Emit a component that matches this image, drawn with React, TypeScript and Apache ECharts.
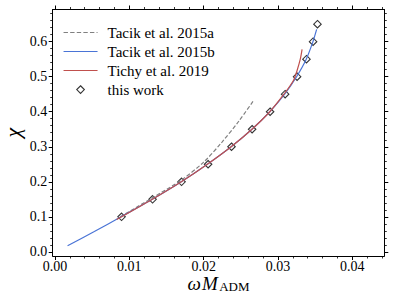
import React, { useEffect, useRef } from "react";
import * as echarts from "echarts";

const xTicks = [0, 0.01, 0.02, 0.03, 0.04];
const yTicks = [0, 0.1, 0.2, 0.3, 0.4, 0.5, 0.6];

const tacikA: [number, number][] = [
  [0.0088, 0.1], [0.0131, 0.154], [0.017, 0.205], [0.02, 0.256],
  [0.0225, 0.314], [0.0248, 0.375], [0.02675, 0.433],
];
const tacikB: [number, number][] = [
  [0.0017, 0.017], [0.0053, 0.058], [0.0089, 0.1], [0.0131, 0.15],
  [0.017, 0.2], [0.0205, 0.25], [0.0237, 0.3], [0.0265, 0.35],
  [0.0289, 0.4], [0.0309, 0.45], [0.0325, 0.5], [0.0338, 0.55],
  [0.0347, 0.6], [0.0352, 0.635],
];
const tichy: [number, number][] = [
  [0.0083, 0.092], [0.0131, 0.15], [0.017, 0.2], [0.0205, 0.25],
  [0.0237, 0.3], [0.0265, 0.35], [0.0289, 0.4], [0.0308, 0.45],
  [0.0321, 0.49], [0.0326, 0.52], [0.033, 0.55], [0.03324, 0.578],
];
const thisWork: [number, number][] = [
  [0.00896, 0.1], [0.01313, 0.15], [0.01703, 0.2], [0.0206, 0.25],
  [0.02375, 0.3], [0.02652, 0.35], [0.02894, 0.4], [0.03096, 0.45],
  [0.03257, 0.5], [0.03383, 0.55], [0.03472, 0.6], [0.03531, 0.65],
];

const FONT = "'Liberation Serif', 'DejaVu Serif', serif";
const GRAY = "#808080";
const BLUE = "#4a74d6";
const RED = "#c0504d";

function axisBase(kind: "x" | "y", showLabels: boolean, position: string) {
  const isX = kind === "x";
  const ticks = isX ? xTicks : yTicks;
  return {
    type: "value",
    position,
    min: isX ? -0.0003 : -0.012,
    max: isX ? 0.0443 : 0.692,
    minInterval: isX ? 0.01 : 0.1,
    maxInterval: isX ? 0.01 : 0.1,
    axisLine: { show: true, onZero: false, lineStyle: { color: "#000", width: 1 } },
    axisTick: { show: true, inside: false, length: 4, customValues: ticks, lineStyle: { color: "#000", width: 1 } },
    minorTick: { show: true, splitNumber: 5, length: 2.5, lineStyle: { color: "#000", width: 0.8 } },
    splitLine: { show: false },
    axisLabel: {
      show: showLabels,
      customValues: ticks,
      formatter: (v: number) => v.toFixed(isX ? 2 : 1),
      fontFamily: FONT,
      fontSize: 14,
      lineHeight: 12,
      color: "#000",
      margin: isX ? 4.5 : 5.5,
    },
    nameMoveOverlap: false,
  };
}

// legend icons: 39 wide box, visible mark in the first 34 px
const dashIcon =
  "path://M0 6.4L4.4 6.4L4.4 7.6L0 7.6Z M6.6 6.4L11 6.4L11 7.6L6.6 7.6Z M13.2 6.4L17.6 6.4L17.6 7.6L13.2 7.6Z M19.8 6.4L24.2 6.4L24.2 7.6L19.8 7.6Z M26.4 6.4L30.8 6.4L30.8 7.6L26.4 7.6Z M33 6.4L34 6.4L34 7.6L33 7.6Z M0 0M39 14";
const lineIcon = "path://M0 6.4L34 6.4L34 7.6L0 7.6Z M0 0M39 14";
const diamondIcon = "path://M0 0M39 14M17 3.2L20.8 7L17 10.8L13.2 7Z";

export default function App() {
  const ref = useRef<HTMLDivElement>(null);
  useEffect(() => {
    if (!ref.current) return;
    const chart = echarts.init(ref.current, undefined, { renderer: "svg" });
    const option: any = {
      animation: false,
      backgroundColor: "#fff",
      grid: { left: 52.7, right: 9.7, top: 9.5, bottom: 49, outerBoundsMode: "none" },
      legend: {
        orient: "vertical",
        left: 58,
        top: 20,
        padding: 5,
        itemWidth: 39,
        itemHeight: 14,
        itemGap: 4,
        symbolKeepAspect: true,
        textStyle: { fontFamily: FONT, fontSize: 15, lineHeight: 14, color: "#000" },
        data: [
          { name: "Tacik et al. 2015a", icon: dashIcon, itemStyle: { color: GRAY, borderWidth: 0 } },
          { name: "Tacik et al. 2015b", icon: lineIcon, itemStyle: { color: BLUE, borderWidth: 0 } },
          { name: "Tichy et al. 2019", icon: lineIcon, itemStyle: { color: RED, borderWidth: 0 } },
          {
            name: "this work",
            icon: diamondIcon,
            itemStyle: { color: "transparent", borderColor: "#000", borderWidth: 1.1 },
          },
        ],
      },
      xAxis: [
        {
          ...axisBase("x", true, "bottom"),
          name: "{w|ω}{m|M}{b|ADM}",
          nameLocation: "middle",
          nameGap: 21,
          nameTextStyle: {
            rich: {
              w: { fontFamily: FONT, fontStyle: "italic", fontSize: 19, lineHeight: 16, color: "#000", verticalAlign: "bottom", padding: [0, 1, 0, 0] },
              m: { fontFamily: FONT, fontStyle: "italic", fontSize: 19, lineHeight: 16, color: "#000", verticalAlign: "bottom", padding: [0, 1.5, 0, 0] },
              b: { fontFamily: FONT, fontSize: 13, lineHeight: 10, color: "#000", verticalAlign: "bottom" },
            },
          },
        },
        { ...axisBase("x", false, "top") },
      ],
      yAxis: [
        {
          ...axisBase("y", true, "left"),
          name: "χ",
          nameLocation: "middle",
          nameGap: 29,
          nameTextStyle: { fontFamily: FONT, fontStyle: "italic", fontSize: 22, color: "#000" },
        },
        { ...axisBase("y", false, "right") },
      ],
      series: [
        {
          name: "Tacik et al. 2015a",
          type: "line",
          data: tacikA,
          symbol: "none",
          smooth: 0.3,
          lineStyle: { color: GRAY, width: 1.2, type: [4, 2] },
          itemStyle: { color: GRAY },
        },
        {
          name: "Tacik et al. 2015b",
          type: "line",
          data: tacikB,
          symbol: "none",
          smooth: 0.3,
          lineStyle: { color: BLUE, width: 1.2 },
          itemStyle: { color: BLUE },
        },
        {
          name: "Tichy et al. 2019",
          type: "line",
          data: tichy,
          symbol: "none",
          smooth: 0.3,
          lineStyle: { color: RED, width: 1.2 },
          itemStyle: { color: RED },
        },
        {
          name: "this work",
          type: "scatter",
          data: thisWork,
          symbol: "diamond",
          symbolSize: [7.5, 7.5],
          itemStyle: { color: "transparent", borderColor: "#000", borderWidth: 1.1 },
        },
      ],
    };
    chart.setOption(option);
    return () => chart.dispose();
  }, []);
  return <div ref={ref} style={{ position: "fixed", left: 0, top: 0, width: 394, height: 305 }} />;
}
